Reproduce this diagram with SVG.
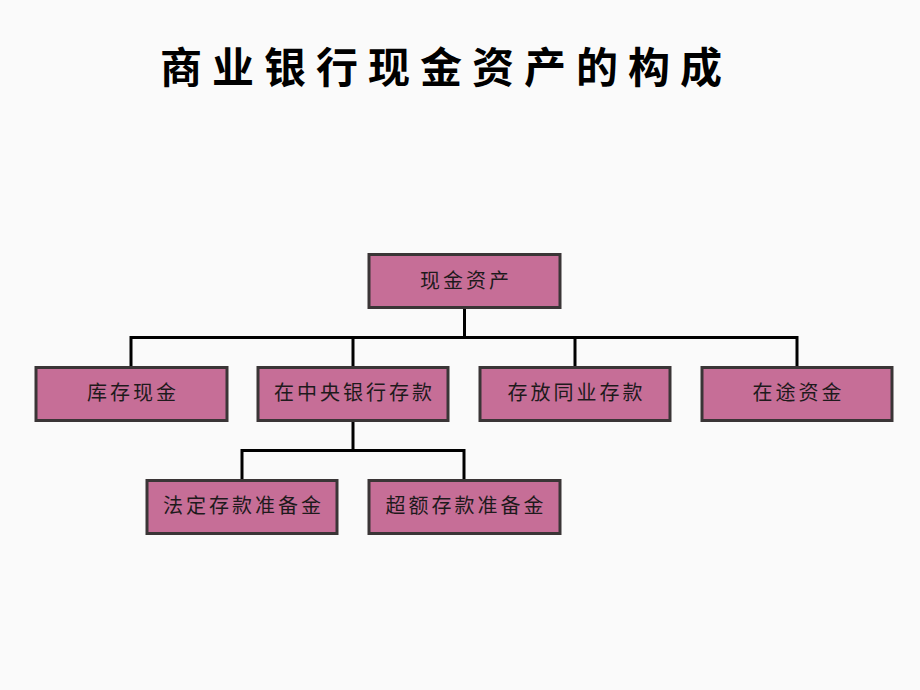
<svg xmlns="http://www.w3.org/2000/svg" width="920" height="690" viewBox="0 0 920 690">
<style>
.box{fill:#c66e97;stroke:#3a3536;stroke-width:3}
.lbl{font-family:"Noto Sans CJK SC","Noto Sans",sans-serif;font-size:20px;fill:#1e1a1c;text-anchor:middle;letter-spacing:3px}
.title{font-family:"Noto Sans CJK SC",sans-serif;font-size:42px;font-weight:bold;fill:#000;text-anchor:middle;letter-spacing:10px}
.ln{fill:none;stroke:#000;stroke-width:3}
</style>
<rect width="920" height="690" fill="#fafafa"/>
<text class="title" x="446" y="83">商业银行现金资产的构成</text>
<g id="connectors">
<path class="ln" d="M464.5 307V337.5M131 337.5H797.5M131 336V367M353 336V367M575 336V367M797 336V367"/>
<path class="ln" d="M353 420V450.5M242 450.5H465M242 449V480M464 449V480"/>
</g>
<g id="n-root"><rect class="box" x="369" y="254.5" width="191" height="53"/><text class="lbl" x="466" y="288">现金资产</text></g>
<g id="n-kucun"><rect class="box" x="36" y="367.5" width="191" height="53"/><text class="lbl" x="133" y="400">库存现金</text></g>
<g id="n-zhongyang"><rect class="box" x="258" y="367.5" width="190" height="53"/><text class="lbl" x="354.5" y="400">在中央银行存款</text></g>
<g id="n-tongye"><rect class="box" x="480" y="367.5" width="190" height="53"/><text class="lbl" x="576.5" y="400">存放同业存款</text></g>
<g id="n-zaitu"><rect class="box" x="702" y="367.5" width="190" height="53"/><text class="lbl" x="798.5" y="400">在途资金</text></g>
<g id="n-fading"><rect class="box" x="147" y="480.5" width="190" height="53"/><text class="lbl" x="243.5" y="513">法定存款准备金</text></g>
<g id="n-chao"><rect class="box" x="369" y="480.5" width="191" height="53"/><text class="lbl" x="466" y="513">超额存款准备金</text></g>
</svg>
